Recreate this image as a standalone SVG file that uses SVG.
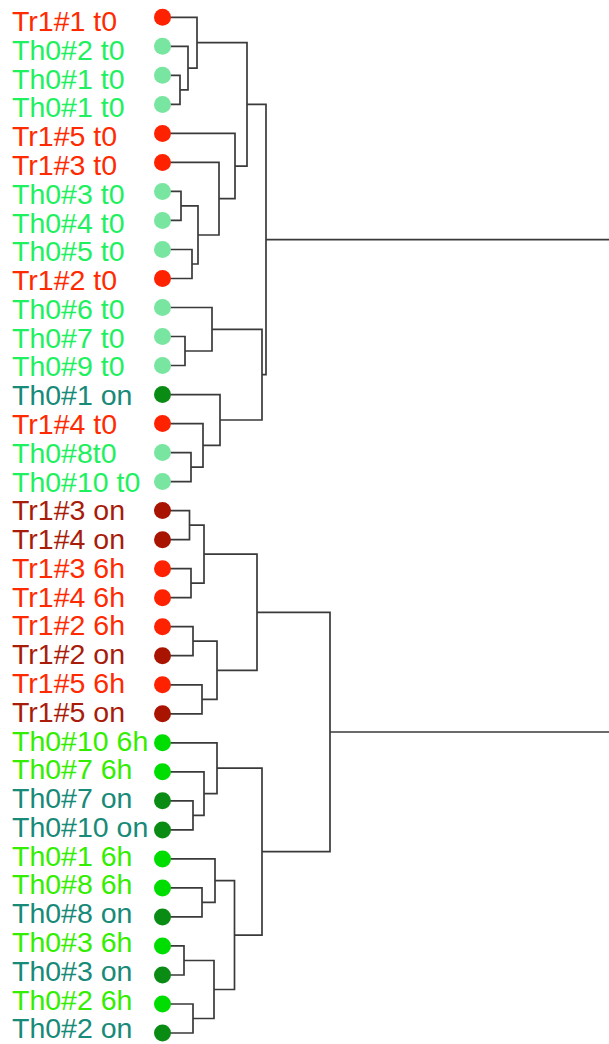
<svg xmlns="http://www.w3.org/2000/svg" width="609" height="1044" viewBox="0 0 609 1044">
  <style>
    text { font-family: "Liberation Sans", Arial, sans-serif; font-size: 28.5px; }
    .links path { fill: none; stroke: #3a3a3a; stroke-width: 1.7; }
    .tr text { fill: #ff2a00; } .tr circle { fill: #ff2200; }
    .tron text { fill: #a81c0a; } .tron circle { fill: #a81400; }
    .tht0 text { fill: #1ef060; } .tht0 circle { fill: #78e6a0; }
    .thon text { fill: #188a78; } .thon circle { fill: #0a8c14; }
    .th6h text { fill: #33ee00; } .th6h circle { fill: #00dd00; }
  </style>
  <rect width="609" height="1044" fill="#ffffff"/>

  <!-- dendrogram branches: each path joins two children at the merge height -->
  <g id="connectors" class="links">
    <!-- upper cluster -->
    <path d="M162.5 75.3 H180 V104.4 H162.5"/>
    <path d="M162.5 46.3 H188 V89.9 H180"/>
    <path d="M162.5 17.3 H197 V68.1 H188"/>
    <path d="M162.5 191.4 H181 V220.4 H162.5"/>
    <path d="M162.5 249.5 H192 V278.5 H162.5"/>
    <path d="M181 205.9 H198 V264 H192"/>
    <path d="M162.5 162.4 H219 V235 H198"/>
    <path d="M162.5 133.4 H235 V198.7 H219"/>
    <path d="M197 42.7 H247 V166.1 H235"/>
    <path d="M162.5 336.5 H185 V365.5 H162.5"/>
    <path d="M162.5 307.5 H212 V351 H185"/>
    <path d="M162.5 452.6 H191 V481.6 H162.5"/>
    <path d="M162.5 423.6 H203 V467.1 H191"/>
    <path d="M162.5 394.6 H220 V445.4 H203"/>
    <path d="M212 329.3 H262 V420 H220"/>
    <path d="M247 104.4 H266 V374.7 H262"/>
    <path d="M266 239.6 H620"/>
    <!-- lower cluster -->
    <path d="M162.5 510.6 H189.5 V539.7 H162.5"/>
    <path d="M162.5 568.7 H191 V597.7 H162.5"/>
    <path d="M189.5 525.2 H204 V583.2 H191"/>
    <path d="M162.5 626.7 H193 V655.7 H162.5"/>
    <path d="M162.5 684.8 H202 V713.8 H162.5"/>
    <path d="M193 641.2 H217 V699.3 H202"/>
    <path d="M204 554.2 H257 V670.3 H217"/>
    <path d="M162.5 800.8 H193 V829.9 H162.5"/>
    <path d="M162.5 771.8 H204 V815.4 H193"/>
    <path d="M162.5 742.8 H217 V793.6 H204"/>
    <path d="M162.5 887.9 H202 V916.9 H162.5"/>
    <path d="M162.5 858.9 H215 V902.4 H202"/>
    <path d="M162.5 945.9 H184 V975 H162.5"/>
    <path d="M162.5 1004 H193 V1033 H162.5"/>
    <path d="M184 960.5 H214 V1018.5 H193"/>
    <path d="M215 880.7 H234.5 V989.5 H214"/>
    <path d="M217 768.2 H262 V935.1 H234.5"/>
    <path d="M257 612.3 H330 V851.7 H262"/>
    <path d="M330 732 H620"/>
  </g>

  <!-- leaves -->
  <g id="n0" class="tr"><circle cx="162.5" cy="17.3" r="8.5"/><text x="12" y="31">Tr1#1 t0</text></g>
  <g id="n1" class="tht0"><circle cx="162.5" cy="46.3" r="8.5"/><text x="12" y="59.8">Th0#2 t0</text></g>
  <g id="n2" class="tht0"><circle cx="162.5" cy="75.3" r="8.5"/><text x="12" y="88.6">Th0#1 t0</text></g>
  <g id="n3" class="tht0"><circle cx="162.5" cy="104.4" r="8.5"/><text x="12" y="117.3">Th0#1 t0</text></g>
  <g id="n4" class="tr"><circle cx="162.5" cy="133.4" r="8.5"/><text x="12" y="146.1">Tr1#5 t0</text></g>
  <g id="n5" class="tr"><circle cx="162.5" cy="162.4" r="8.5"/><text x="12" y="174.9">Tr1#3 t0</text></g>
  <g id="n6" class="tht0"><circle cx="162.5" cy="191.4" r="8.5"/><text x="12" y="203.7">Th0#3 t0</text></g>
  <g id="n7" class="tht0"><circle cx="162.5" cy="220.4" r="8.5"/><text x="12" y="232.5">Th0#4 t0</text></g>
  <g id="n8" class="tht0"><circle cx="162.5" cy="249.5" r="8.5"/><text x="12" y="261.2">Th0#5 t0</text></g>
  <g id="n9" class="tr"><circle cx="162.5" cy="278.5" r="8.5"/><text x="12" y="290">Tr1#2 t0</text></g>
  <g id="n10" class="tht0"><circle cx="162.5" cy="307.5" r="8.5"/><text x="12" y="318.8">Th0#6 t0</text></g>
  <g id="n11" class="tht0"><circle cx="162.5" cy="336.5" r="8.5"/><text x="12" y="347.6">Th0#7 t0</text></g>
  <g id="n12" class="tht0"><circle cx="162.5" cy="365.5" r="8.5"/><text x="12" y="376.4">Th0#9 t0</text></g>
  <g id="n13" class="thon"><circle cx="162.5" cy="394.6" r="8.5"/><text x="12" y="405.1">Th0#1 on</text></g>
  <g id="n14" class="tr"><circle cx="162.5" cy="423.6" r="8.5"/><text x="12" y="433.9">Tr1#4 t0</text></g>
  <g id="n15" class="tht0"><circle cx="162.5" cy="452.6" r="8.5"/><text x="12" y="462.7">Th0#8t0</text></g>
  <g id="n16" class="tht0"><circle cx="162.5" cy="481.6" r="8.5"/><text x="12" y="491.5">Th0#10 t0</text></g>
  <g id="n17" class="tron"><circle cx="162.5" cy="510.6" r="8.5"/><text x="12" y="520.3">Tr1#3 on</text></g>
  <g id="n18" class="tron"><circle cx="162.5" cy="539.7" r="8.5"/><text x="12" y="549">Tr1#4 on</text></g>
  <g id="n19" class="tr"><circle cx="162.5" cy="568.7" r="8.5"/><text x="12" y="577.8">Tr1#3 6h</text></g>
  <g id="n20" class="tr"><circle cx="162.5" cy="597.7" r="8.5"/><text x="12" y="606.6">Tr1#4 6h</text></g>
  <g id="n21" class="tr"><circle cx="162.5" cy="626.7" r="8.5"/><text x="12" y="635.4">Tr1#2 6h</text></g>
  <g id="n22" class="tron"><circle cx="162.5" cy="655.7" r="8.5"/><text x="12" y="664.2">Tr1#2 on</text></g>
  <g id="n23" class="tr"><circle cx="162.5" cy="684.8" r="8.5"/><text x="12" y="692.9">Tr1#5 6h</text></g>
  <g id="n24" class="tron"><circle cx="162.5" cy="713.8" r="8.5"/><text x="12" y="721.7">Tr1#5 on</text></g>
  <g id="n25" class="th6h"><circle cx="162.5" cy="742.8" r="8.5"/><text x="12" y="750.5">Th0#10 6h</text></g>
  <g id="n26" class="th6h"><circle cx="162.5" cy="771.8" r="8.5"/><text x="12" y="779.3">Th0#7 6h</text></g>
  <g id="n27" class="thon"><circle cx="162.5" cy="800.8" r="8.5"/><text x="12" y="808.1">Th0#7 on</text></g>
  <g id="n28" class="thon"><circle cx="162.5" cy="829.9" r="8.5"/><text x="12" y="836.8">Th0#10 on</text></g>
  <g id="n29" class="th6h"><circle cx="162.5" cy="858.9" r="8.5"/><text x="12" y="865.6">Th0#1 6h</text></g>
  <g id="n30" class="th6h"><circle cx="162.5" cy="887.9" r="8.5"/><text x="12" y="894.4">Th0#8 6h</text></g>
  <g id="n31" class="thon"><circle cx="162.5" cy="916.9" r="8.5"/><text x="12" y="923.2">Th0#8 on</text></g>
  <g id="n32" class="th6h"><circle cx="162.5" cy="945.9" r="8.5"/><text x="12" y="952">Th0#3 6h</text></g>
  <g id="n33" class="thon"><circle cx="162.5" cy="975" r="8.5"/><text x="12" y="980.7">Th0#3 on</text></g>
  <g id="n34" class="th6h"><circle cx="162.5" cy="1004" r="8.5"/><text x="12" y="1009.5">Th0#2 6h</text></g>
  <g id="n35" class="thon"><circle cx="162.5" cy="1033" r="8.5"/><text x="12" y="1038.3">Th0#2 on</text></g>
</svg>
